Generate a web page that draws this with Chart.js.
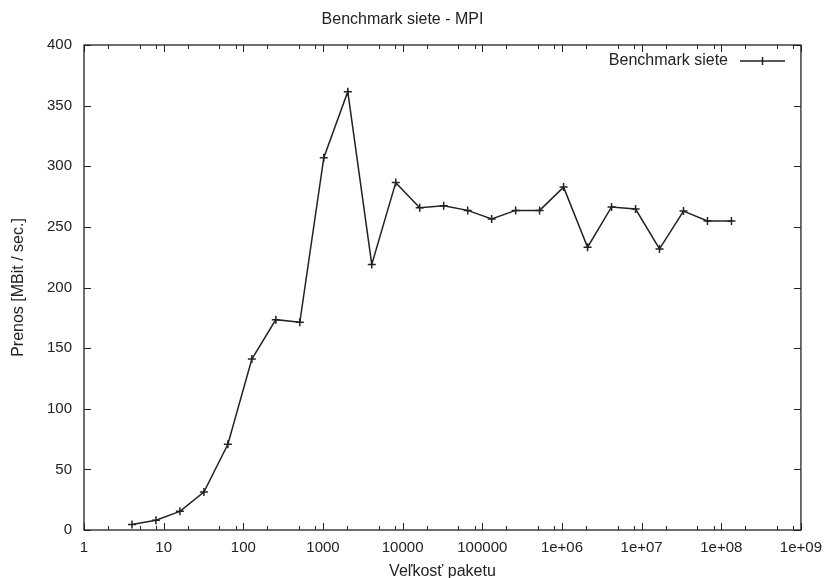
<!DOCTYPE html>
<html><head><meta charset="utf-8">
<script src="https://cdn.jsdelivr.net/npm/chart.js@4/dist/chart.umd.min.js"></script>
<style>html,body{margin:0;padding:0;background:#fff;}#wrap{width:831px;height:578px;}</style>
</head><body><div id="wrap"><canvas id="c" width="831" height="578"></canvas></div>
<script>
const packetSizes = [4,8,16,32,64,128,256,512,1024,2048,4096,8192,16384,32768,65536,131072,262144,524288,1048576,2097152,4194304,8388608,16777216,33554432,67108864,134217728];
const throughput = [4.5,8,15.4,31.3,70.7,141,173.5,171.3,307,361.5,219,286.5,265.8,267.5,263.6,256.5,263.6,263.6,282.8,233.2,266.4,264.7,231.8,263,254.8,254.8];
const xTickValues = [1,10,100,1000,10000,100000,1e6,1e7,1e8,1e9];
const xTickLabels = ['1','10','100','1000','10000','100000','1e+06','1e+07','1e+08','1e+09'];
const xMinorFactors = [2,5,8];
const yTickValues = [0,50,100,150,200,250,300,350,400];
const seriesLabel = 'Benchmark siete';
const chartTitle = 'Benchmark siete - MPI';
const xTitle = 'Veľkosť paketu';
const yTitle = 'Prenos [MBit / sec.]';

const INK = '#222';
const FONT = "'Liberation Sans', Arial, Helvetica, sans-serif";
Chart.defaults.font.family = FONT;
Chart.defaults.color = INK;

const framePlugin = {
  id: 'frame',
  afterDraw(chart) {
    const {ctx, chartArea: a, scales} = chart;
    const xs = scales.x, ys = scales.y;
    ctx.save();
    ctx.strokeStyle = INK;
    ctx.lineWidth = 1.3;
    ctx.strokeRect(a.left, a.top, a.right - a.left, a.bottom - a.top);
    ctx.lineWidth = 1;
    ctx.beginPath();
    const majorLen = 7, minorLen = 4;
    xTickValues.forEach(v => {
      const px = Math.round(xs.getPixelForValue(v)) + 0.5;
      ctx.moveTo(px, a.bottom); ctx.lineTo(px, a.bottom - majorLen);
      ctx.moveTo(px, a.top); ctx.lineTo(px, a.top + majorLen);
    });
    xTickValues.slice(0, -1).forEach(v => {
      xMinorFactors.forEach(f => {
        const px = Math.round(xs.getPixelForValue(v * f)) + 0.5;
        ctx.moveTo(px, a.bottom); ctx.lineTo(px, a.bottom - minorLen);
        ctx.moveTo(px, a.top); ctx.lineTo(px, a.top + minorLen);
      });
    });
    yTickValues.forEach(v => {
      const py = Math.round(ys.getPixelForValue(v)) + 0.5;
      ctx.moveTo(a.left, py); ctx.lineTo(a.left + majorLen, py);
      ctx.moveTo(a.right, py); ctx.lineTo(a.right - majorLen, py);
    });
    ctx.stroke();

    const ly = a.top + 16;
    ctx.font = '16px ' + FONT;
    ctx.fillStyle = INK;
    ctx.textAlign = 'right';
    ctx.textBaseline = 'middle';
    ctx.fillText(chart.data.datasets[0].label, 728, ly);
    ctx.lineWidth = 1.5;
    ctx.beginPath();
    ctx.moveTo(740, ly); ctx.lineTo(785, ly);
    ctx.moveTo(762.5, ly - 4); ctx.lineTo(762.5, ly + 4);
    ctx.stroke();
    ctx.restore();
  }
};

new Chart(document.getElementById('c'), {
  type: 'line',
  data: {
    datasets: [{
      label: seriesLabel,
      data: packetSizes.map((x, i) => ({x, y: throughput[i]})),
      borderColor: INK,
      backgroundColor: INK,
      borderWidth: 1.5,
      pointStyle: 'cross',
      pointRadius: 4,
      pointBorderWidth: 1.5,
      pointBorderColor: INK,
      tension: 0,
      fill: false
    }]
  },
  options: {
    responsive: false,
    animation: false,
    devicePixelRatio: 1,
    layout: {padding: {left: 0, right: 26, top: 0, bottom: 0}},
    plugins: {
      legend: {display: false},
      tooltip: {enabled: false},
      title: {
        display: true,
        text: chartTitle,
        color: INK,
        font: {size: 16, weight: 'normal', lineHeight: 1.125},
        padding: {top: 11, bottom: 16}
      }
    },
    scales: {
      x: {
        type: 'logarithmic',
        position: 'bottom',
        min: 1, max: 1e9,
        grid: {display: false, drawTicks: false},
        border: {display: false},
        afterBuildTicks: s => { s.ticks = xTickValues.map(v => ({value: v, major: true})); },
        afterFit: s => { s.height = 48; },
        ticks: {
          color: INK, font: {size: 15}, padding: 9, maxRotation: 0, autoSkip: false,
          callback: v => { const i = xTickValues.indexOf(v); return i >= 0 ? xTickLabels[i] : ''; }
        },
        title: {display: true, text: xTitle, color: INK, font: {size: 16, lineHeight: 0.8}, padding: 0}
      },
      y: {
        type: 'linear',
        min: 0, max: 400,
        grid: {display: false, drawTicks: false},
        border: {display: false},
        afterBuildTicks: s => { s.ticks = yTickValues.map(v => ({value: v})); },
        afterFit: s => { s.width = 84; },
        ticks: {color: INK, font: {size: 15}, padding: 12},
        title: {display: true, text: yTitle, color: INK, font: {size: 16, lineHeight: 1.125}, padding: {top: 10, bottom: 0}}
      }
    }
  },
  plugins: [framePlugin]
});
</script></body></html>
